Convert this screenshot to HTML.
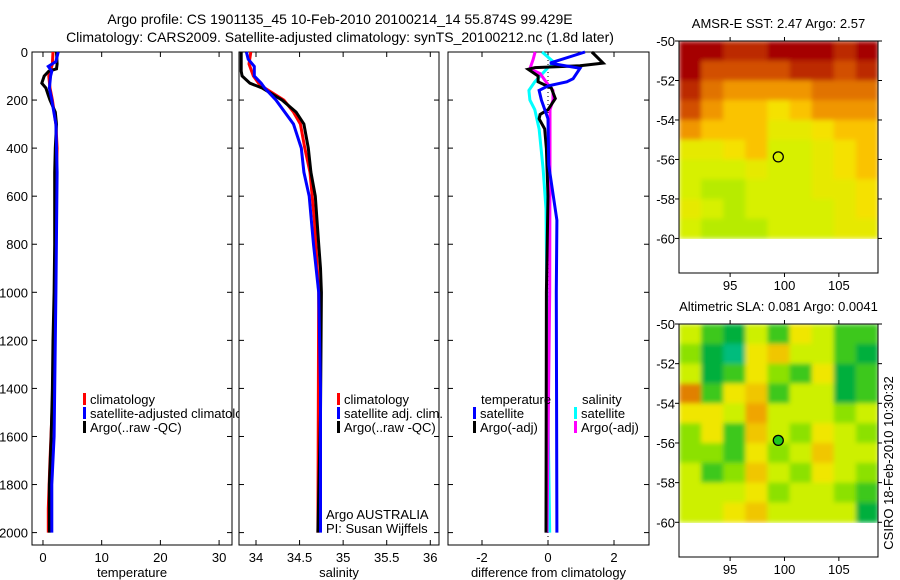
<!DOCTYPE html>
<html><head><meta charset="utf-8"><style>
body{margin:0;background:#fff;width:900px;height:580px;overflow:hidden}
svg{display:block;font-family:"Liberation Sans",sans-serif}
</style></head><body>
<svg id="c" width="900" height="580" xmlns="http://www.w3.org/2000/svg">
<defs>
<filter id="blur" x="0" y="0" width="1" height="1"><feGaussianBlur stdDeviation="2.5" edgeMode="duplicate"/></filter>
<clipPath id="m1clip"><rect x="679" y="41" width="199" height="198"/></clipPath>
<clipPath id="m2clip"><rect x="679" y="324" width="199" height="199"/></clipPath>
</defs>
<text x="340" y="24" font-size="14" text-anchor="middle">Argo profile: CS 1901135_45 10-Feb-2010 20100214_14 55.874S 99.429E</text>
<text x="340" y="42" font-size="14" text-anchor="middle">Climatology: CARS2009. Satellite-adjusted climatology: synTS_20100212.nc (1.8d later)</text>
</svg>
<script>
// ---- data ----
const tDepth = [0,50,70,80,100,130,150,180,200,250,300,400,500,800,1000,1200,1400,1600,1800,2000];
const tArgo  = [2.3,2.4,2.3,1.0,0.2,-0.2,0.5,0.9,1.2,2.1,2.3,2.1,2.0,2.0,1.9,1.7,1.6,1.4,1.1,1.1];
const tClimDepth = [0,50,100,150,200,300,400,500,1000,1400,1700,1900,2000];
const tClim  = [1.7,1.6,1.0,1.2,1.6,2.2,2.4,2.3,2.0,1.7,1.2,0.9,0.9];
const tSatDepth = [0,40,60,80,100,150,200,300,500,1000,1400,1600,1800,2000];
const tSat   = [2.6,2.2,0.9,1.5,1.3,1.1,1.5,2.2,2.4,2.2,2.0,1.9,1.5,1.5];
const sArgoDepth = [0,80,100,130,150,200,250,300,400,500,600,800,900,1000,1500,2000];
const sArgo = [33.83,33.83,33.84,33.93,34.07,34.30,34.46,34.55,34.60,34.63,34.68,34.72,34.74,34.75,34.74,34.71];
const sClimDepth = [0,50,100,130,150,200,250,300,400,500,700,1000,2000];
const sClim = [33.94,33.92,33.97,34.03,34.10,34.32,34.43,34.51,34.56,34.62,34.67,34.72,34.71];
const sSatDepth = [0,30,60,100,130,150,200,300,400,500,600,800,1000,1400,2000];
const sSat = [33.89,33.91,33.98,33.98,34.06,34.10,34.23,34.43,34.52,34.55,34.61,34.66,34.72,34.74,34.74];
const dTSatDepth = [0,46,68,111,124,141,160,200,278,470,700,1000,2000];
const dTSat = [1.12,0.06,0.97,0.76,0.57,0.0,-0.27,-0.2,0.0,0.02,0.27,0.25,0.27];
const dTArgoDepth = [0,46,57,65,72,100,124,150,194,240,260,278,320,403,600,1000,2000];
const dTArgo = [1.33,1.67,0.97,-0.39,-0.6,-0.3,-0.3,0.1,0.22,0.0,-0.24,-0.27,-0.1,-0.05,0.0,-0.05,-0.06];
const dSSatDepth = [0,46,65,124,160,200,240,320,486,653,1500,2000];
const dSSat = [-0.18,0.21,0.0,-0.4,-0.58,-0.55,-0.4,-0.27,-0.15,-0.06,0.0,0.05];
const dSArgoDepth = [0,30,70,90,124,160,200,240,320,400,1000,2000];
const dSArgo = [-0.39,-0.45,-0.55,-0.24,-0.06,0.15,0.15,0.06,0.06,0.06,0.05,-0.03];
const depthTicks = [0,200,400,600,800,1000,1200,1400,1600,1800,2000];
const tTicks = [0,10,20,30];
const sTicks = [34,34.5,35,35.5,36];
const dTicks = [-2,0,2];
const sstGrid = [
[10,10,9,9,10,10,10,9,10],[10,8,8,8,8,9,9,8,9],[9,7,6,6,6,6,7,7,7],[8,6,5,5,4,5,6,6,6],
[6,5,5,5,3,3,4,5,5],[3,3,4,5,2,2,3,4,5],[2,2,2,3,2,2,3,4,5],[2,1,1,2,2,2,3,3,4],
[3,2,1,2,2,2,2,3,4],[2,1,1,1,2,2,2,3,3]];
const slaGrid = [
[5,3,2,5,3,6,5,3,3],[4,2,1,6,7,5,5,3,2],[5,2,3,6,4,3,6,2,3],[9,3,6,7,3,5,5,2,3],
[6,6,5,8,5,5,5,4,5],[4,6,3,7,5,4,6,5,4],[4,4,3,6,4,5,7,5,5],[5,3,4,7,5,4,6,5,4],
[5,5,5,6,4,5,5,4,3],[5,5,6,7,5,5,5,5,2]];
const latTicks = [50,52,54,56,58,60];
const lonTicks = [95,100,105];
const floatLon = 99.43, floatLat = 55.87;

// ---- drawing ----
const svg = document.getElementById('c');
const NS = 'http://www.w3.org/2000/svg';
function mk(tag, at, txt, parent){const e=document.createElementNS(NS,tag);for(const k in at)e.setAttribute(k,at[k]);if(txt!==undefined)e.textContent=txt;(parent||svg).appendChild(e);return e;}
const yD = d => 52 + d*0.2403;
const panels = [
 {x0:32,x1:232,min:-1.87,max:32.2,ticks:tTicks,label:'temperature',name:'temperature'},
 {x0:239,x1:439,min:33.805,max:36.1,ticks:sTicks,label:'salinity',name:'salinity'},
 {x0:448,x1:649,min:-3.03,max:3.06,ticks:dTicks,label:'difference from climatology',name:'difference'}
];
panels.forEach((p,pi)=>{
  p.x = v => p.x0 + (v-p.min)/(p.max-p.min)*(p.x1-p.x0);
  const r=mk('rect',{x:p.x0,y:52,width:p.x1-p.x0,height:493,fill:'none',stroke:'#000','stroke-width':1});
  
  
  p.ticks.forEach(t=>{
    const X=p.x(t);
    mk('line',{x1:X,y1:545,x2:X,y2:540,stroke:'#000'});
    mk('line',{x1:X,y1:52,x2:X,y2:57,stroke:'#000'});
    const tl=mk('text',{x:X,y:562,'font-size':13,'text-anchor':'middle'},String(t));
    
    
  });
  const al=mk('text',{x:(p.x0+p.x1)/2,y:577,'font-size':13,'text-anchor':'middle'},p.label);
  
  
  depthTicks.forEach(d=>{
    mk('line',{x1:p.x0,y1:yD(d),x2:p.x0+5,y2:yD(d),stroke:'#000'});
    mk('line',{x1:p.x1,y1:yD(d),x2:p.x1-5,y2:yD(d),stroke:'#000'});
  });
});
depthTicks.forEach(d=>{
  const tl=mk('text',{x:28,y:yD(d)+5,'font-size':13,'text-anchor':'end'},String(d));
  
  
});
const zl=mk('line',{x1:panels[2].x(0),y1:yD(0),x2:panels[2].x(0),y2:545,stroke:'#000','stroke-dasharray':'1,3'});


function line(p,depths,vals,col,name){
  const pts=depths.map((d,i)=>p.x(vals[i]).toFixed(1)+','+yD(d).toFixed(1)).join(' ');
  const e=mk('polyline',{points:pts,fill:'none',stroke:col,'stroke-width':3,'stroke-linejoin':'miter'});
  
  
}
line(panels[0],tClimDepth,tClim,'#f00','temperature-climatology-line');
line(panels[0],tDepth,tArgo,'#000','temperature-argo-line');
line(panels[0],tSatDepth,tSat,'#00f','temperature-satellite-line');
line(panels[1],sClimDepth,sClim,'#f00','salinity-climatology-line');
line(panels[1],sArgoDepth,sArgo,'#000','salinity-argo-line');
line(panels[1],sSatDepth,sSat,'#00f','salinity-satellite-line');
line(panels[2],dSSatDepth,dSSat,'#0ff','diff-salinity-satellite-line');
line(panels[2],dSArgoDepth,dSArgo,'#f0f','diff-salinity-argo-line');
line(panels[2],dTArgoDepth,dTArgo,'#000','diff-temperature-argo-line');
line(panels[2],dTSatDepth,dTSat,'#00f','diff-temperature-satellite-line');
function leg(x,y,col,txt,name,clip){
  const m=mk('rect',{x:x,y:y-11,width:3,height:12,fill:col});
  
  
  const t=mk('text',{x:x+7,y:y,'font-size':13},txt);
  
  
  if(clip) t.setAttribute('clip-path','url(#p1clip)');
}
const cp=mk('clipPath',{id:'p1clip'});
const cr=document.createElementNS(NS,'rect');cr.setAttribute('x',32);cr.setAttribute('y',0);cr.setAttribute('width',207);cr.setAttribute('height',580);cp.appendChild(cr);
leg(83,404,'#f00','climatology','temp-legend-climatology');
leg(83,418,'#00f','satellite-adjusted climatology','temp-legend-satellite',true);
leg(83,432,'#000','Argo(..raw -QC)','temp-legend-argo');
leg(337,404,'#f00','climatology','sal-legend-climatology');
leg(337,418,'#00f','satellite adj. clim.','sal-legend-satellite');
leg(337,432,'#000','Argo(..raw -QC)','sal-legend-argo');
const lt=mk('text',{x:481,y:404,'font-size':13},'temperature');


const ls=mk('text',{x:582,y:404,'font-size':13},'salinity');


leg(473,418,'#00f','satellite','diff-legend-temp-satellite');
leg(473,432,'#000','Argo(-adj)','diff-legend-temp-argo');
leg(574,418,'#0ff','satellite','diff-legend-sal-satellite');
leg(574,432,'#f0f','Argo(-adj)','diff-legend-sal-argo');
const a1=mk('text',{x:326,y:519,'font-size':13},'Argo AUSTRALIA');


const a2=mk('text',{x:326,y:533,'font-size':13},'PI: Susan Wijffels');



const sstCols=[[0,150,230,0],[2,215,240,0],[4,245,225,0],[5,250,195,0],[6,240,150,0],[8,210,80,0],[10,165,5,0]];
const slaCols=[[0,0,200,190],[2,0,175,60],[3,60,200,30],[4,140,225,0],[5,205,240,0],[6,240,230,0],[8,240,165,0],[10,210,90,0]];
function cmap(tab,v){for(let i=1;i<tab.length;i++){if(v<=tab[i][0]){const a=tab[i-1],b=tab[i],f=(v-a[0])/(b[0]-a[0]);return 'rgb('+[1,2,3].map(k=>Math.round(a[k]+f*(b[k]-a[k]))).join(',')+')';}}const l=tab[tab.length-1];return 'rgb('+l[1]+','+l[2]+','+l[3]+')';}
const lonMin=90.3, lonMax=108.6;
function map(top,bot,grid,tab,title,name,filled,clipId){
  const x0=679,x1=878;
  const X=lon=>x0+(lon-lonMin)/(lonMax-lonMin)*(x1-x0);
  const Y=lat=>top+(lat-50)*(bot-top)/11.75;
  const cols=grid[0].length, dl=(lonMax-lonMin)/cols;
  const outer=mk('g',{'clip-path':'url(#'+clipId+')'});
  const g=mk('g',{filter:'url(#blur)'},undefined,outer);
  
  
  grid.forEach((row,r)=>row.forEach((v,c)=>{
    const e=mk('rect',{x:X(lonMin+c*dl).toFixed(1),y:Y(50+r).toFixed(1),width:(X(lonMin+(c+1)*dl)-X(lonMin+c*dl)+0.5).toFixed(1),height:(Y(51)-Y(50)+0.5).toFixed(1),fill:cmap(tab,v)},undefined,g);
    
    
  }));
  const f=mk('rect',{x:x0,y:top,width:x1-x0,height:bot-top,fill:'none',stroke:'#000'});
  
  
  const t=mk('text',{x:(x0+x1)/2,y:top-13,'font-size':13,'text-anchor':'middle'},title);
  
  
  latTicks.forEach(l=>{
    mk('line',{x1:x0,y1:Y(l),x2:x0-4,y2:Y(l),stroke:'#000'});
    mk('line',{x1:x1,y1:Y(l),x2:x1+4,y2:Y(l),stroke:'#000'});
    const e=mk('text',{x:x0-4,y:Y(l)+5,'font-size':13,'text-anchor':'end'},'-'+l);
    
    
  });
  lonTicks.forEach(l=>{
    mk('line',{x1:X(l),y1:bot,x2:X(l),y2:bot+4,stroke:'#000'});
    mk('line',{x1:X(l),y1:top,x2:X(l),y2:top-4,stroke:'#000'});
    const e=mk('text',{x:X(l),y:bot+17,'font-size':13,'text-anchor':'middle'},String(l));
    
    
  });
  const c=mk('circle',{cx:X(floatLon),cy:Y(floatLat),r:5,fill:filled?'#1ec81e':'none',stroke:'#000','stroke-width':1.3});
  
  
}
map(41,273,sstGrid,sstCols,'AMSR-E SST: 2.47 Argo: 2.57','sst-map',false,'m1clip');
map(324,557,slaGrid,slaCols,'Altimetric SLA: 0.081 Argo: 0.0041','sla-map',true,'m2clip');
const cs=mk('text',{x:0,y:0,'font-size':13,'text-anchor':'middle',transform:'translate(893,463) rotate(-90)'},'CSIRO 18-Feb-2010 10:30:32');


</script>
</body></html>
